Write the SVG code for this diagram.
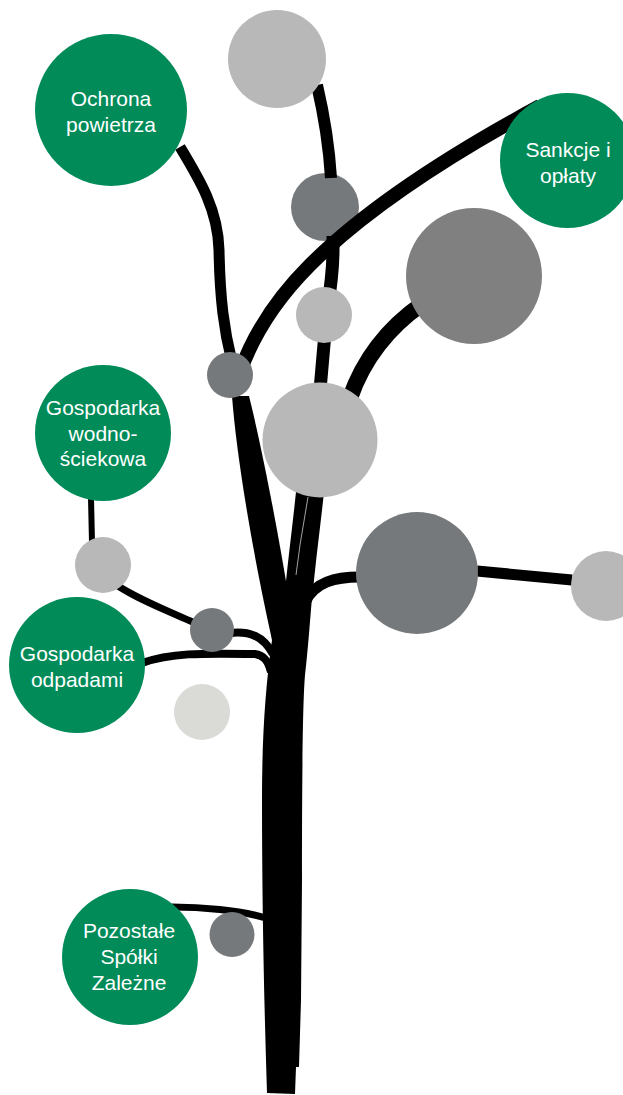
<svg xmlns="http://www.w3.org/2000/svg" width="623" height="1095" viewBox="0 0 623 1095">
<style>
.br{fill:none;stroke:#000;stroke-linecap:butt}
.g{fill:#008b59}
.lg{fill:#b7b8b7}
.dg{fill:#76797b}
.mg{fill:#808080}
.vl{fill:#dadbd7}
.t{font-family:"Liberation Sans",Arial,sans-serif;font-size:21px;fill:#fff;text-anchor:middle}
</style>
<rect width="623" height="1095" fill="#fff"/>
<g id="node-b"><circle class="dg" cx="325" cy="207" r="34"/></g>
<g id="connectors">
  <path class="br" stroke-width="11" d="M 180 147 C 200 180, 218 210, 219 250 C 220 300, 224 330, 232 362"/>
  <path class="br" stroke-width="12" d="M 317 85 C 324 115, 329 145, 331 178"/>
  <path class="br" stroke-width="13" d="M 333 236 L 333 250 C 333 272, 330 292, 327 310 L 320 390"/>
  <path class="br" stroke-width="14" d="M 540 106 C 440 160, 360 215, 310 265 C 280 295, 255 330, 240 372"/>
  <path class="br" stroke-width="16" d="M 422 304 C 392 325, 365 355, 350 398"/>
  <path fill="#000" d="M 232 396 C 236 450, 250 540, 272 640 L 292 640 L 292 620 C 285 570, 265 460, 249 396 Z"/>
  <path fill="#000" d="M 296 492 L 324 492 C 320 530, 315 565, 312 602 L 284 602 C 288 560, 292 530, 296 492 Z"/>
  <path fill="none" stroke="#fff" stroke-width="0.8" opacity="0.8" d="M 308 497 L 300 545 L 296 575"/>
  <path fill="#000" d="M 270 598 L 312 598 C 310 620, 308 650, 305 675 C 303 700, 302 760, 302 880 L 301 1000 L 299 1067 L 296 1067 L 295 1094 L 267 1093 C 264 1000, 262 900, 262 800 C 262 740, 265 690, 272 640 Z"/>
  <path class="br" stroke-width="11" d="M 572 580 L 477 571"/>
  <path class="br" stroke-width="11" d="M 360 577 C 335 577, 315 582, 305 602"/>
  <path class="br" stroke-width="6" d="M 91 498 L 92 542"/>
  <path class="br" stroke-width="7" d="M 118 586 C 140 600, 165 610, 195 623"/>
  <path class="br" stroke-width="8" d="M 230 633 C 250 631, 263 636, 273 654"/>
  <path class="br" stroke-width="8" d="M 142 663 C 170 653, 200 653, 255 654 C 263 655, 268 660, 271 672"/>
  <path class="br" stroke-width="7" d="M 172 907 C 200 907, 240 910, 266 918"/>
</g>
<g id="node-a"><circle class="lg" cx="277" cy="59" r="49"/></g>
<g id="node-c"><circle class="mg" cx="474" cy="276" r="68"/></g>
<g id="node-d"><circle class="lg" cx="324" cy="315" r="28"/></g>
<g id="node-e"><circle class="dg" cx="230" cy="375" r="23"/></g>
<g id="node-f"><circle class="lg" cx="320" cy="440" r="57.5"/></g>
<g id="node-g"><circle class="dg" cx="417" cy="573" r="61"/></g>
<g id="node-h"><circle class="lg" cx="606" cy="586" r="35"/></g>
<g id="node-i"><circle class="lg" cx="103" cy="565" r="28"/></g>
<g id="node-j"><circle class="dg" cx="212" cy="630" r="22"/></g>
<g id="node-k"><circle class="vl" cx="202" cy="712" r="28"/></g>
<g id="node-l"><circle class="dg" cx="232" cy="934.5" r="22.5"/></g>
<g id="node-ochrona">
  <circle class="g" cx="111" cy="110" r="76"/>
  <text class="t" x="111" y="106">Ochrona</text>
  <text class="t" x="111" y="132">powietrza</text>
</g>
<g id="node-sankcje">
  <circle class="g" cx="567.5" cy="160.5" r="67.5"/>
  <text class="t" x="568" y="157">Sankcje i</text>
  <text class="t" x="568" y="183">opłaty</text>
</g>
<g id="node-wodno">
  <circle class="g" cx="103" cy="433" r="68"/>
  <text class="t" x="103" y="415">Gospodarka</text>
  <text class="t" x="103" y="441">wodno-</text>
  <text class="t" x="103" y="466">ściekowa</text>
</g>
<g id="node-odpadami">
  <circle class="g" cx="77" cy="665" r="68"/>
  <text class="t" x="77" y="661">Gospodarka</text>
  <text class="t" x="77" y="687">odpadami</text>
</g>
<g id="node-pozostale">
  <circle class="g" cx="130" cy="957" r="68"/>
  <text class="t" x="129" y="938">Pozostałe</text>
  <text class="t" x="129" y="964">Spółki</text>
  <text class="t" x="129" y="990">Zależne</text>
</g>
</svg>
